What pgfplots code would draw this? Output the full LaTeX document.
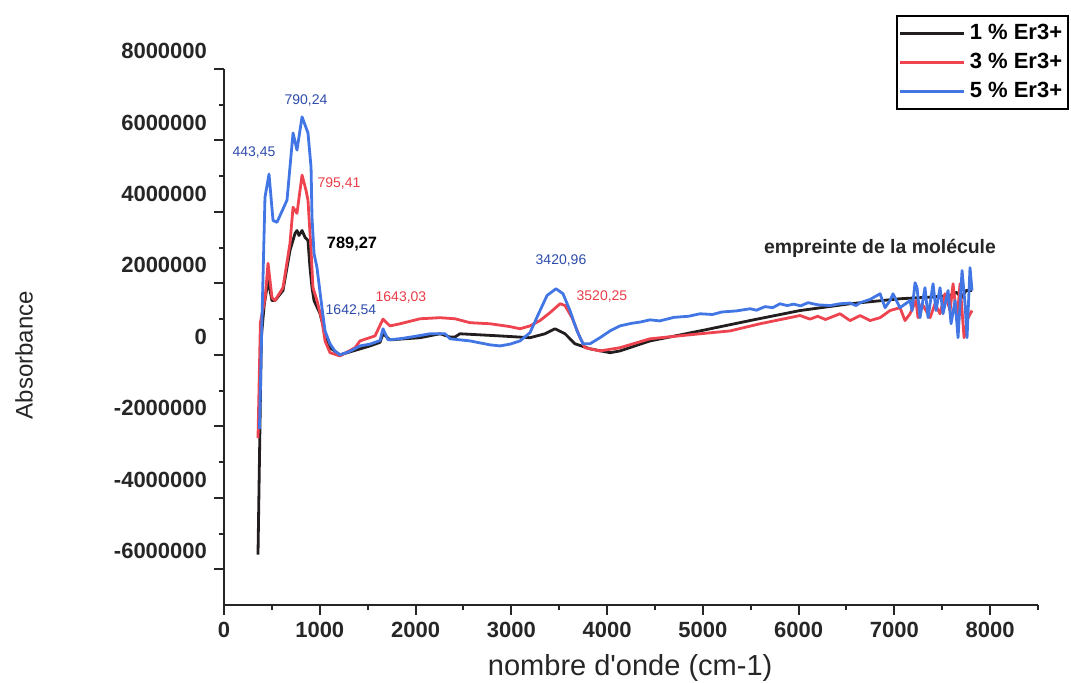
\documentclass[border=0pt]{standalone}
\usepackage{fontspec}
\setmainfont{Liberation Sans}[Ligatures=TeXOff]
\usepackage{pgfplots}
\pgfplotsset{compat=1.18}
\definecolor{cblack}{RGB}{35,30,30}
\definecolor{cred}{RGB}{238,68,80}
\definecolor{cblue}{RGB}{66,118,228}
\definecolor{tblue}{RGB}{45,75,170}
\definecolor{tred}{RGB}{232,62,72}
\begin{document}
\begin{tikzpicture}
\path[use as bounding box] (0,0) rectangle (535.5pt,341.5pt);
\begin{axis}[
  at={(112pt,39pt)}, anchor=south west,
  width=407pt, height=268pt, scale only axis,
  xmin=0, xmax=8500, ymin=-7000000, ymax=8000000,
  scaled y ticks=false, scaled x ticks=false,
  axis x line*=bottom, axis y line*=left,
  axis line style={line width=1pt, color=black!85},
  tick align=outside, major tick length=5pt, minor tick length=2.5pt,
  every tick/.style={line width=1pt, black!85},
  xtick={0,1000,2000,3000,4000,5000,6000,7000,8000},
  xticklabels={0,1000,2000,3000,4000,5000,6000,7000,8000},
  minor xtick={500,1500,2500,3500,4500,5500,6500,7500,8500},
  ytick={-6000000,-4000000,-2000000,0,2000000,4000000,6000000,8000000},
  yticklabels={-6000000,-4000000,-2000000,0,2000000,4000000,6000000,8000000},
  minor ytick={-5000000,-3000000,-1000000,1000000,3000000,5000000,7000000},
  ticklabel style={font=\fontsize{11}{13}\selectfont\bfseries, black!85},
  yticklabel style={yshift=9pt},
  xlabel={nombre d'onde (cm-1)},
  xlabel style={font=\fontsize{14.5}{17}\selectfont, at={(axis description cs:0.499,-0.1175)}, anchor=center, black!85},
  ylabel={Absorbance},
  ylabel style={font=\fontsize{12}{14}\selectfont, at={(axis description cs:-0.2457,0.466)}, anchor=center, black!85},
  clip=false,
  legend style={at={(axis description cs:1.038,1.1007)}, anchor=north east, draw=black, line width=0.8pt,
    font=\fontsize{11}{13}\selectfont\bfseries, inner xsep=1pt, inner ysep=2pt, row sep=1.5pt},
  legend cell align=left,
  legend image code/.code={\draw[#1,line width=1.5pt] (0pt,0pt) -- (32pt,0pt);},
  every axis plot/.append style={line join=round},
]
\addplot[cblack, line width=1.4pt] coordinates {
(355,-5590000) (390,500000) (420,1400000) (460,2080000) (501,1520000) (533,1520000) (616,1800000)
(689,2920000) (742,3400000) (762,3480000) (783,3340000) (815,3480000) (846,3290000) (877,3200000)
(898,2440000) (919,1880000) (940,1520000) (1003,1150000) (1055,600000) (1107,200000) (1211,0)
(1525,250000) (1629,350000) (1660,590000) (1733,420000) (2047,480000) (2256,590000) (2360,500000)
(2412,500000) (2464,590000) (2882,530000) (3195,480000) (3352,590000) (3456,730000) (3561,590000)
(3665,310000) (3822,170000) (4031,60000) (4135,110000) (4449,390000) (4971,670000) (5493,960000)
(6015,1240000) (6537,1430000) (7059,1570000) (7400,1620000) (7581,1660000) (7650,1750000)
(7700,1600000) (7750,1800000) (7811,1800000)
};
\addlegendentry{1 \% Er3+}
\addplot[cred, line width=1.4pt] coordinates {
(355,-2330000) (380,900000) (430,1600000) (460,2560000) (501,1600000) (533,1520000) (616,1880000)
(689,3120000) (721,4130000) (762,3960000) (815,5030000) (856,4610000) (877,4330000) (909,2920000)
(929,1880000) (971,1520000) (1023,960000) (1055,390000) (1107,60000) (1211,-30000) (1368,200000)
(1420,390000) (1577,530000) (1660,1000000) (1733,810000) (1838,870000) (2047,1010000) (2256,1040000)
(2412,1010000) (2569,900000) (2778,870000) (2987,790000) (3091,730000) (3195,810000) (3300,960000)
(3404,1180000) (3509,1430000) (3561,1380000) (3634,1040000) (3718,480000) (3770,200000) (3926,110000)
(4135,200000) (4449,450000) (4971,590000) (5284,670000) (5597,870000) (6015,1100000) (6119,1000000)
(6200,1080000) (6280,990000) (6328,1040000) (6433,1150000) (6537,960000) (6642,1100000) (6746,960000)
(6851,1040000) (6955,1240000) (7059,1320000) (7111,960000) (7164,1150000) (7226,1520000) (7247,1040000)
(7289,1430000) (7373,1040000) (7425,1430000) (7477,1150000) (7529,1710000) (7582,1240000) (7613,1990000)
(7655,960000) (7686,1990000) (7728,480000) (7770,1040000) (7811,1240000)
};
\addlegendentry{3 \% Er3+}
\addplot[cblue, line width=1.4pt] coordinates {
(370,-2080000) (397,1040000) (428,4410000) (470,5060000) (512,3760000) (553,3710000) (658,4330000)
(721,6210000) (762,5730000) (815,6660000) (877,6210000) (909,5250000) (919,3850000) (940,2840000)
(971,2440000) (1023,1320000) (1055,670000) (1107,310000) (1160,100000) (1211,0) (1316,100000)
(1420,250000) (1525,300000) (1629,400000) (1660,730000) (1713,420000) (1838,450000) (2000,520000)
(2151,590000) (2308,590000) (2360,450000) (2464,420000) (2569,390000) (2778,280000) (2882,250000)
(2987,300000) (3091,390000) (3195,620000) (3300,1240000) (3373,1660000) (3467,1850000) (3540,1710000)
(3613,1240000) (3686,670000) (3749,310000) (3822,310000) (3926,480000) (4031,670000) (4135,810000)
(4250,880000) (4350,920000) (4449,980000) (4550,950000) (4700,1050000) (4850,1080000) (4971,1150000)
(5100,1130000) (5200,1200000) (5350,1230000) (5493,1290000) (5560,1250000) (5650,1350000) (5730,1320000)
(5806,1430000) (5880,1380000) (5950,1420000) (6020,1370000) (6099,1460000) (6200,1400000) (6328,1380000)
(6433,1430000) (6537,1450000) (6600,1380000) (6642,1460000) (6746,1550000) (6851,1710000) (6903,1320000)
(6955,1520000) (6986,1710000) (7059,1320000) (7164,1520000) (7185,1240000) (7216,2020000) (7237,1880000)
(7268,1040000) (7320,1880000) (7352,1040000) (7404,1990000) (7435,1240000) (7477,1880000) (7508,1150000)
(7561,1800000) (7592,870000) (7634,1520000) (7665,480000) (7707,2360000) (7738,1430000) (7759,480000)
(7790,2440000) (7811,1800000)
};
\addlegendentry{5 \% Er3+}
\node[font=\fontsize{7}{8}\selectfont, tblue] at (axis cs:313,5650000) {443,45};
\node[font=\fontsize{7}{8}\selectfont, tblue] at (axis cs:856,7110000) {790,24};
\node[font=\fontsize{7}{8}\selectfont, tred] at (axis cs:1201,4800000) {795,41};
\node[font=\fontsize{8.2}{9}\selectfont\bfseries, black] at (axis cs:1337,3090000) {789,27};
\node[font=\fontsize{7}{8}\selectfont, tblue] at (axis cs:1326,1240000) {1642,54};
\node[font=\fontsize{7}{8}\selectfont, tred] at (axis cs:1848,1600000) {1643,03};
\node[font=\fontsize{7}{8}\selectfont, tblue] at (axis cs:3519,2640000) {3420,96};
\node[font=\fontsize{7}{8}\selectfont, tred] at (axis cs:3947,1630000) {3520,25};
\node[font=\fontsize{9.7}{11}\selectfont\bfseries, black!85] at (axis cs:6850,2980000) {empreinte de la molécule};
\end{axis}
\end{tikzpicture}
\end{document}
